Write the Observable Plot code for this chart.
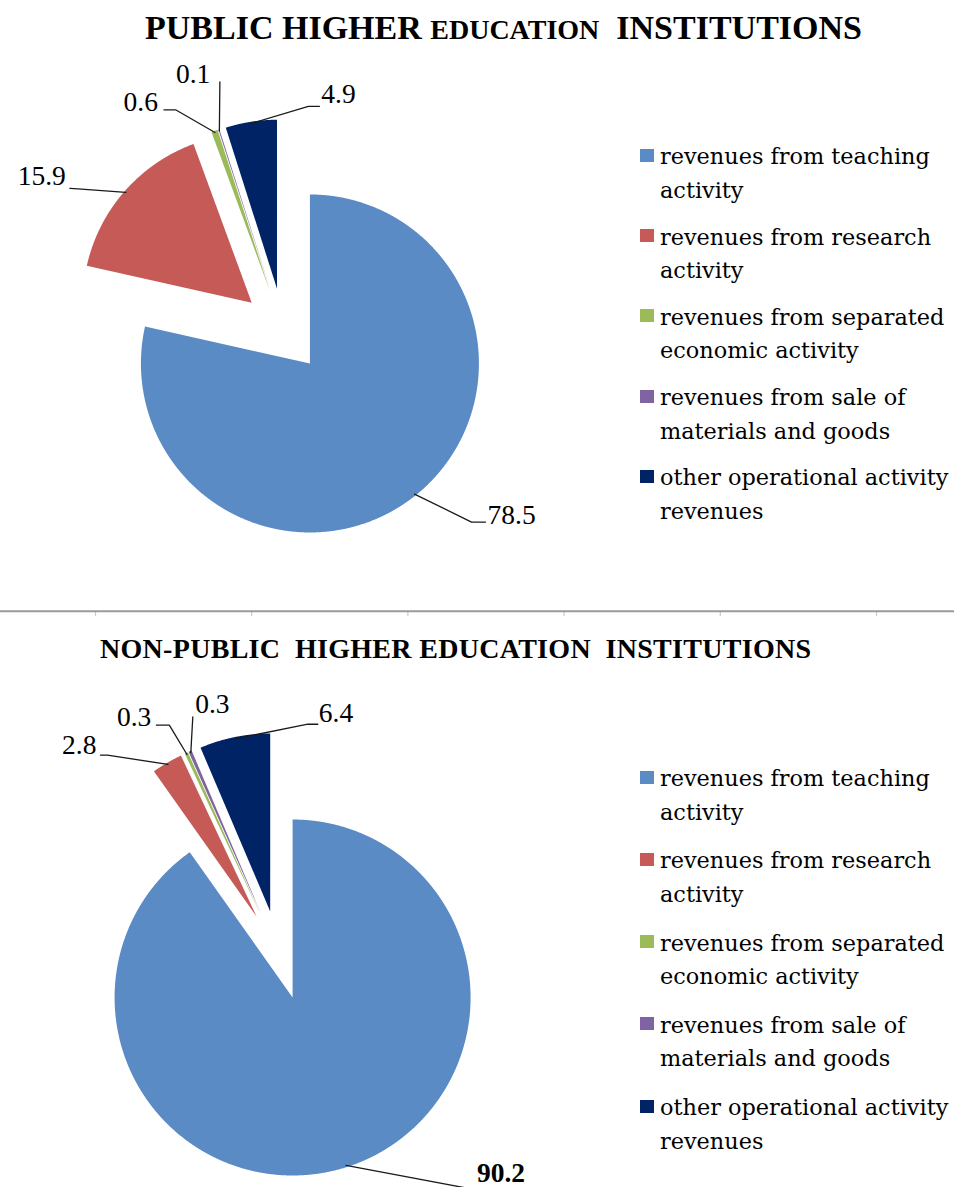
<!DOCTYPE html>
<html>
<head>
<meta charset="utf-8">
<script src="https://cdn.jsdelivr.net/npm/d3@7"></script>
<script src="https://cdn.jsdelivr.net/npm/@observablehq/plot@0.6"></script>
<style>
  html, body { margin: 0; padding: 0; background: #fff; }
  #page { position: relative; width: 954px; height: 1187px; overflow: hidden; background: #fff; }
  .title { font-family: "Liberation Serif", "Times New Roman", serif; font-weight: bold; color: #000; white-space: pre; }
  .legend { position: absolute; left: 640px; }
  .item { display: flex; align-items: flex-start; }
  .sw { width: 14px; height: 13px; flex: none; }
  .lt { font-family: "DejaVu Serif", serif; font-size: 22.4px; line-height: 33.5px; width: 300px; margin-left: 6px; color: #000; }
</style>
</head>
<body>
<div id="page"></div>
<script>
// ---------- data ----------
const categories = [
  "revenues from teaching activity",
  "revenues from research activity",
  "revenues from separated economic activity",
  "revenues from sale of materials and goods",
  "other operational activity revenues"
];
const publicValues = [78.5, 15.9, 0.6, 0.1, 4.9];
const nonPublicValues = [90.2, 2.8, 0.3, 0.3, 6.4];
const publicTitle = ["PUBLIC HIGHER ", "EDUCATION", "  INSTITUTIONS"];
const nonPublicTitle = "NON-PUBLIC  HIGHER EDUCATION  INSTITUTIONS";
const separatorTicks = [0, 1, 2, 3, 4, 5];

// ---------- styles / layout ----------
const colors = ["#5b8bc4", "#c55a57", "#9bbb59", "#8064a2", "#002366"];
const W = 954;

// label layout: offsets (px) from the leader start on each slice edge
const publicLayout = {
  top: 55, height: 545, cx: 283, cy: 275, r: 169, explode: 0.25,
  labels: [
    {path: [[57, 28], [71, 28]], text: [73, 21], anchor: "start"},
    {path: [[-48, -3.5], [-56, -4]], text: [-60, -16], anchor: "end"},
    {path: [[-39, -22.5], [-51, -22.5]], text: [-57, -30], anchor: "end"},
    {path: [[0.5, -49]], text: [-9, -57], anchor: "end"},
    {path: [[57, -17], [68, -17]], text: [70, -29], anchor: "start"}
  ]
};
const nonPublicLayout = {
  top: 675, height: 512, cx: 278.6, cy: 279.6, r: 178, explode: 0.25,
  labels: [
    {path: [[120, 22.5], [130, 22.5]], text: [131, 7.5], anchor: "start", bold: true},
    {path: [[-60.5, -9.3], [-67.5, -9.3]], text: [-71.5, -19.3], anchor: "end"},
    {path: [[-17.7, -29.4], [-30.7, -29.4]], text: [-35.7, -37.4], anchor: "end"},
    {path: [[2, -36]], text: [4.4, -48.7], anchor: "start"},
    {path: [[72.8, -14.6], [82.8, -14.6]], text: [83.8, -25.6], anchor: "start"}
  ]
};

const page = document.getElementById("page");
const fmt = d3.format(".1f");

function piePlot(values, L) {
  const {cx, cy, r, explode, height} = L;
  const total = d3.sum(values);
  let acc = 0;
  const slices = values.map((v, i) => {
    const a0 = acc / total * 2 * Math.PI;
    acc += v;
    const a1 = acc / total * 2 * Math.PI;
    return {i, v, a0, a1, mid: (a0 + a1) / 2, cat: categories[i]};
  });
  const marks = [];
  for (const s of slices) {
    const ox = explode * Math.sin(s.mid), oy = explode * Math.cos(s.mid);
    const n = Math.max(2, Math.ceil((s.a1 - s.a0) / (Math.PI / 720)));
    const pts = [{x: ox, y: oy}];
    for (let k = 0; k <= n; k++) {
      const a = s.a0 + (s.a1 - s.a0) * k / n;
      pts.push({x: ox + Math.sin(a), y: oy + Math.cos(a)});
    }
    pts.push({x: ox, y: oy});
    marks.push(Plot.line(pts, {x: "x", y: "y", fill: colors[s.i], stroke: "none"}));
  }
  for (const s of slices) {
    const lab = L.labels[s.i];
    const ex = (explode + 0.99) * Math.sin(s.mid), ey = (explode + 0.99) * Math.cos(s.mid);
    const pts = [{x: ex, y: ey}, ...lab.path.map(([dx, dy]) => ({x: ex + dx / r, y: ey - dy / r}))];
    marks.push(Plot.line(pts, {x: "x", y: "y", stroke: "#1a1a1a", strokeWidth: 1.3}));
    marks.push(Plot.text([s], {
      x: () => ex + lab.text[0] / r,
      y: () => ey - lab.text[1] / r,
      text: d => fmt(d.v),
      textAnchor: lab.anchor,
      fontSize: 27.5,
      fontFamily: "Liberation Serif",
      fontWeight: lab.bold ? "bold" : "normal",
      fill: "#000"
    }));
  }
  return Plot.plot({
    width: W, height,
    margin: 0,
    x: {domain: [-cx / r, (W - cx) / r], range: [0, W], axis: null},
    y: {domain: [-(height - cy) / r, cy / r], range: [height, 0], axis: null},
    style: {overflow: "visible", background: "transparent"},
    marks
  });
}

function place(el, top, left = 0) {
  el.style.position = "absolute";
  el.style.top = top + "px";
  el.style.left = left + "px";
  page.appendChild(el);
}

function legend(top, gap) {
  const div = document.createElement("div");
  div.className = "legend";
  div.style.top = top + "px";
  categories.forEach((c, i) => {
    const it = document.createElement("div");
    it.className = "item";
    it.style.marginBottom = gap + "px";
    const sw = document.createElement("div");
    sw.className = "sw";
    sw.style.background = colors[i];
    sw.style.marginTop = "8.5px";
    const t = document.createElement("div");
    t.className = "lt";
    t.textContent = c;
    it.appendChild(sw); it.appendChild(t);
    div.appendChild(it);
  });
  page.appendChild(div);
}

// Title 1
const t1 = document.createElement("div");
t1.className = "title";
t1.style.fontSize = "34px";
t1.style.lineHeight = "34px";
const s1 = document.createElement("span"); s1.textContent = publicTitle[0];
const s2 = document.createElement("span"); s2.textContent = publicTitle[1]; s2.style.fontSize = "28px";
const s3 = document.createElement("span"); s3.textContent = publicTitle[2];
t1.append(s1, s2, s3);
place(t1, 11, 145);

// Pie 1
place(piePlot(publicValues, publicLayout), publicLayout.top);
legend(140.25, 13.25);

// Separator
const sep = Plot.plot({
  width: W, height: 20, margin: 0,
  x: {domain: [0, 5], range: [95, 876], axis: null},
  y: {domain: [0, 1], range: [10.7, 16], axis: null},
  marks: [
    Plot.ruleX(separatorTicks, {x: d => d, y1: 0, y2: 1, stroke: "#c3cbdc", strokeWidth: 1.2}),
    Plot.ruleY([0], {stroke: "#9a9a9a", strokeWidth: 2})
  ]
});
place(sep, 600);

// Title 2
const t2 = document.createElement("div");
t2.className = "title";
t2.style.fontSize = "28px";
t2.style.lineHeight = "28px";
t2.style.letterSpacing = "0.3px";
t2.textContent = nonPublicTitle;
place(t2, 634.5, 100);

// Pie 2
place(piePlot(nonPublicValues, nonPublicLayout), nonPublicLayout.top);
legend(762, 15.25);
</script>
</body>
</html>
